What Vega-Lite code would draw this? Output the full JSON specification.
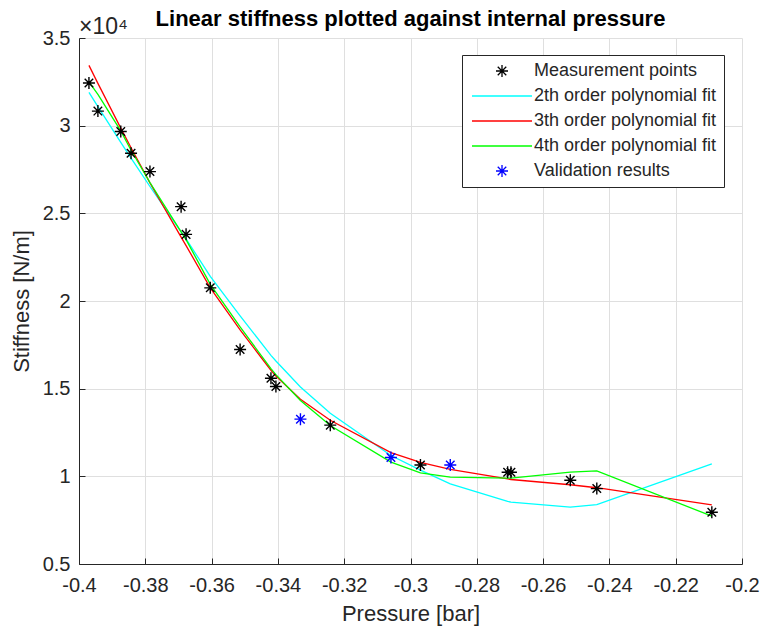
{
  "$schema": "https://vega.github.io/schema/vega-lite/v6.json",
  "width": 663,
  "height": 526,
  "autosize": {"type": "none"},
  "padding": {"left": 79, "top": 38, "right": 21, "bottom": 67},
  "background": "white",
  "config": {
    "font": "Liberation Sans",
    "view": {"stroke": null},
    "axis": {
      "grid": true,
      "gridColor": "#dfdfdf",
      "gridWidth": 1,
      "domainColor": "#262626",
      "domainWidth": 1,
      "tickColor": "#262626",
      "tickSize": -6,
      "labelFont": "Liberation Sans",
      "labelFontSize": 20,
      "labelColor": "#262626",
      "titleFont": "Liberation Sans",
      "titleFontSize": 22,
      "titleFontWeight": "normal",
      "titleColor": "#262626",
      "labelFlush": false,
      "labelOverlap": false
    },
    "legend": {
      "orient": "none",
      "legendX": 383,
      "legendY": 17,
      "direction": "vertical",
      "fillColor": "white",
      "strokeColor": "#262626",
      "padding": 7,
      "labelFont": "Liberation Sans",
      "labelFontSize": 18,
      "labelColor": "#262626",
      "labelLimit": 400,
      "symbolSize": 144,
      "symbolOffset": 24,
      "labelOffset": 23,
      "rowPadding": 7,
      "symbolStrokeWidth": 1.3
    }
  },
  "title": {
    "text": "Linear stiffness plotted against internal pressure",
    "fontSize": 22,
    "fontWeight": "bold",
    "color": "#000000",
    "anchor": "middle",
    "frame": "group",
    "offset": -15
  },
  "datasets": {
    "d": [
      {"series": "Measurement points", "pressure": -0.397, "stiffness": 32430},
      {"series": "Measurement points", "pressure": -0.3943, "stiffness": 30830},
      {"series": "Measurement points", "pressure": -0.3874, "stiffness": 29670},
      {"series": "Measurement points", "pressure": -0.3843, "stiffness": 28430},
      {"series": "Measurement points", "pressure": -0.3786, "stiffness": 27380},
      {"series": "Measurement points", "pressure": -0.3692, "stiffness": 25380},
      {"series": "Measurement points", "pressure": -0.3677, "stiffness": 23800},
      {"series": "Measurement points", "pressure": -0.3604, "stiffness": 20750},
      {"series": "Measurement points", "pressure": -0.3514, "stiffness": 17230},
      {"series": "Measurement points", "pressure": -0.3421, "stiffness": 15590},
      {"series": "Measurement points", "pressure": -0.3406, "stiffness": 15120},
      {"series": "Measurement points", "pressure": -0.3242, "stiffness": 12920},
      {"series": "Measurement points", "pressure": -0.297, "stiffness": 10650},
      {"series": "Measurement points", "pressure": -0.2707, "stiffness": 10230},
      {"series": "Measurement points", "pressure": -0.2697, "stiffness": 10230},
      {"series": "Measurement points", "pressure": -0.2518, "stiffness": 9780},
      {"series": "Measurement points", "pressure": -0.2438, "stiffness": 9300},
      {"series": "Measurement points", "pressure": -0.2091, "stiffness": 7950},
      {"series": "Validation results", "pressure": -0.3332, "stiffness": 13260},
      {"series": "Validation results", "pressure": -0.3059, "stiffness": 11070},
      {"series": "Validation results", "pressure": -0.288, "stiffness": 10650},

      {"series": "2th order polynomial fit", "pressure": -0.397, "stiffness": 31900},
      {"series": "2th order polynomial fit", "pressure": -0.3943, "stiffness": 31090},
      {"series": "2th order polynomial fit", "pressure": -0.3874, "stiffness": 29050},
      {"series": "2th order polynomial fit", "pressure": -0.3843, "stiffness": 28150},
      {"series": "2th order polynomial fit", "pressure": -0.3786, "stiffness": 26530},
      {"series": "2th order polynomial fit", "pressure": -0.3692, "stiffness": 23940},
      {"series": "2th order polynomial fit", "pressure": -0.3677, "stiffness": 23540},
      {"series": "2th order polynomial fit", "pressure": -0.3604, "stiffness": 21400},
      {"series": "2th order polynomial fit", "pressure": -0.3514, "stiffness": 19150},
      {"series": "2th order polynomial fit", "pressure": -0.3421, "stiffness": 16900},
      {"series": "2th order polynomial fit", "pressure": -0.3406, "stiffness": 16580},
      {"series": "2th order polynomial fit", "pressure": -0.3332, "stiffness": 15100},
      {"series": "2th order polynomial fit", "pressure": -0.3242, "stiffness": 13600},
      {"series": "2th order polynomial fit", "pressure": -0.3059, "stiffness": 11190},
      {"series": "2th order polynomial fit", "pressure": -0.297, "stiffness": 10350},
      {"series": "2th order polynomial fit", "pressure": -0.288, "stiffness": 9570},
      {"series": "2th order polynomial fit", "pressure": -0.2707, "stiffness": 8570},
      {"series": "2th order polynomial fit", "pressure": -0.2697, "stiffness": 8530},
      {"series": "2th order polynomial fit", "pressure": -0.2518, "stiffness": 8240},
      {"series": "2th order polynomial fit", "pressure": -0.2438, "stiffness": 8390},
      {"series": "2th order polynomial fit", "pressure": -0.2091, "stiffness": 10710},

      {"series": "3th order polynomial fit", "pressure": -0.397, "stiffness": 33440},
      {"series": "3th order polynomial fit", "pressure": -0.3943, "stiffness": 32410},
      {"series": "3th order polynomial fit", "pressure": -0.3874, "stiffness": 29860},
      {"series": "3th order polynomial fit", "pressure": -0.3843, "stiffness": 28740},
      {"series": "3th order polynomial fit", "pressure": -0.3786, "stiffness": 26740},
      {"series": "3th order polynomial fit", "pressure": -0.3692, "stiffness": 23640},
      {"series": "3th order polynomial fit", "pressure": -0.3677, "stiffness": 23160},
      {"series": "3th order polynomial fit", "pressure": -0.3604, "stiffness": 20750},
      {"series": "3th order polynomial fit", "pressure": -0.3514, "stiffness": 18350},
      {"series": "3th order polynomial fit", "pressure": -0.3421, "stiffness": 16050},
      {"series": "3th order polynomial fit", "pressure": -0.3406, "stiffness": 15720},
      {"series": "3th order polynomial fit", "pressure": -0.3332, "stiffness": 14400},
      {"series": "3th order polynomial fit", "pressure": -0.3242, "stiffness": 13200},
      {"series": "3th order polynomial fit", "pressure": -0.3059, "stiffness": 11350},
      {"series": "3th order polynomial fit", "pressure": -0.297, "stiffness": 10800},
      {"series": "3th order polynomial fit", "pressure": -0.288, "stiffness": 10400},
      {"series": "3th order polynomial fit", "pressure": -0.2707, "stiffness": 9850},
      {"series": "3th order polynomial fit", "pressure": -0.2697, "stiffness": 9820},
      {"series": "3th order polynomial fit", "pressure": -0.2518, "stiffness": 9520},
      {"series": "3th order polynomial fit", "pressure": -0.2438, "stiffness": 9350},
      {"series": "3th order polynomial fit", "pressure": -0.2091, "stiffness": 8370},

      {"series": "4th order polynomial fit", "pressure": -0.397, "stiffness": 32500},
      {"series": "4th order polynomial fit", "pressure": -0.3943, "stiffness": 31780},
      {"series": "4th order polynomial fit", "pressure": -0.3874, "stiffness": 29700},
      {"series": "4th order polynomial fit", "pressure": -0.3843, "stiffness": 28600},
      {"series": "4th order polynomial fit", "pressure": -0.3786, "stiffness": 26760},
      {"series": "4th order polynomial fit", "pressure": -0.3692, "stiffness": 23940},
      {"series": "4th order polynomial fit", "pressure": -0.3677, "stiffness": 23500},
      {"series": "4th order polynomial fit", "pressure": -0.3604, "stiffness": 20950},
      {"series": "4th order polynomial fit", "pressure": -0.3514, "stiffness": 18520},
      {"series": "4th order polynomial fit", "pressure": -0.3421, "stiffness": 16140},
      {"series": "4th order polynomial fit", "pressure": -0.3406, "stiffness": 15800},
      {"series": "4th order polynomial fit", "pressure": -0.3332, "stiffness": 14330},
      {"series": "4th order polynomial fit", "pressure": -0.3242, "stiffness": 12900},
      {"series": "4th order polynomial fit", "pressure": -0.3059, "stiffness": 10810},
      {"series": "4th order polynomial fit", "pressure": -0.297, "stiffness": 10200},
      {"series": "4th order polynomial fit", "pressure": -0.288, "stiffness": 9950},
      {"series": "4th order polynomial fit", "pressure": -0.2707, "stiffness": 9900},
      {"series": "4th order polynomial fit", "pressure": -0.2697, "stiffness": 9900},
      {"series": "4th order polynomial fit", "pressure": -0.2518, "stiffness": 10240},
      {"series": "4th order polynomial fit", "pressure": -0.2438, "stiffness": 10310},
      {"series": "4th order polynomial fit", "pressure": -0.2091, "stiffness": 7730}
    ],
    "exp": [{"label": "×10⁴", "pressure": -0.4, "stiffness": 35000}]
  },
  "layer": [
    {
      "data": {"name": "d"},
      "transform": [{"filter": "indexof(datum.series, 'fit') >= 0"}],
      "mark": {"type": "line", "strokeWidth": 1.3},
      "encoding": {
        "x": {
          "field": "pressure",
          "type": "quantitative",
          "scale": {"domain": [-0.4, -0.2], "nice": false, "zero": false},
          "axis": {
            "title": "Pressure [bar]",
            "values": [-0.4, -0.38, -0.36, -0.34, -0.32, -0.3, -0.28, -0.26, -0.24, -0.22, -0.2],
            "labelExpr": "toString(datum.value)",
            "labelPadding": 17,
            "titlePadding": 8
          }
        },
        "y": {
          "field": "stiffness",
          "type": "quantitative",
          "scale": {"domain": [5000, 35000], "nice": false, "zero": false},
          "axis": {
            "title": "Stiffness [N/m]",
            "values": [5000, 10000, 15000, 20000, 25000, 30000, 35000],
            "labelExpr": "toString(datum.value / 10000)",
            "labelPadding": 15,
            "titlePadding": 9
          }
        },
        "color": {
          "field": "series",
          "type": "nominal",
          "scale": {
            "domain": ["Measurement points", "2th order polynomial fit", "3th order polynomial fit", "4th order polynomial fit", "Validation results"],
            "range": ["#000000", "#00ffff", "#ff0000", "#00ff00", "#0000ff"]
          },
          "legend": {
            "title": null,
            "encode": {
              "symbols": {
                "update": {
                  "shape": {"signal": "indexof(datum.value, 'fit') >= 0 ? 'M-5,0L5,0' : 'M-1,0L1,0M0,-1L0,1M-0.71,-0.71L0.71,0.71M-0.71,0.71L0.71,-0.71'"},
                  "fill": {"value": "transparent"},
                  "stroke": {"scale": "color", "field": "value"},
                  "strokeWidth": {"value": 1.3},
                  "opacity": {"value": 1}
                }
              }
            }
          }
        }
      }
    },
    {
      "data": {"name": "d"},
      "transform": [{"filter": "indexof(datum.series, 'fit') < 0"}],
      "mark": {
        "type": "point",
        "shape": "M-1,0L1,0M0,-1L0,1M-0.71,-0.71L0.71,0.71M-0.71,0.71L0.71,-0.71",
        "filled": false,
        "size": 144,
        "strokeWidth": 1.4,
        "opacity": 1
      },
      "encoding": {
        "x": {"field": "pressure", "type": "quantitative"},
        "y": {"field": "stiffness", "type": "quantitative"},
        "color": {"field": "series", "type": "nominal"}
      }
    },
    {
      "data": {"name": "exp"},
      "mark": {"type": "text", "align": "left", "baseline": "alphabetic", "dy": -4, "fontSize": 23, "color": "#262626", "clip": false},
      "encoding": {
        "x": {"field": "pressure", "type": "quantitative"},
        "y": {"field": "stiffness", "type": "quantitative"},
        "text": {"field": "label", "type": "nominal"}
      }
    }
  ]
}
